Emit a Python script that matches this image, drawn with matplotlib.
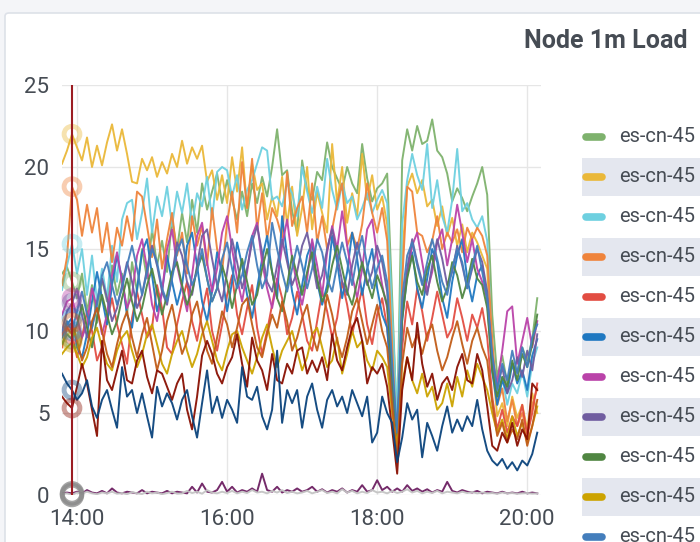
import matplotlib

matplotlib.use("Agg")

import matplotlib.dates as mdates  # noqa: E402
import matplotlib.pyplot as plt  # noqa: E402
import pandas as pd  # noqa: E402
from matplotlib.lines import Line2D  # noqa: E402
from matplotlib.patches import FancyBboxPatch, Rectangle  # noqa: E402

# ---- data: node 1m load, one sample every 4 minutes from 13:48 ----
TIMES = pd.date_range("2024-05-20 13:48", periods=96, freq="4min")
X_END = pd.Timestamp("2024-05-20 20:11")
CURSOR = 2  # hovered sample (13:56)

# node names are cut at the panel edge, only the prefix is visible
NODE_NAMES = ["es-cn-45"] * 11

grn = [13.5, 13.9, 13.0, 12.0, 13.5, 11.2, 12.8, 10.5, 13.2, 11.8, 14.0, 12.2,
       13.5, 11.0, 14.2, 12.4, 15.0, 13.2, 16.2, 14.0, 15.5, 13.6, 16.8, 15.0,
       17.2, 15.4, 18.0, 16.0, 19.0, 17.4, 18.5, 19.6, 17.8, 19.2, 18.0, 16.8,
       18.5, 17.0, 19.0, 17.8, 19.4, 18.2, 20.0, 22.3, 19.5, 19.8, 17.3, 16.0,
       20.4, 18.6, 18.0, 19.7, 19.2, 21.5, 20.0, 19.3, 18.6, 20.0, 19.0, 18.4,
       21.4, 19.3, 17.9, 18.7, 19.0, 19.6, 12.0, 4.0, 20.4, 22.3, 21.0, 22.5,
       21.4, 21.6, 22.9, 21.0, 20.6, 19.6, 17.9, 18.7, 18.1, 17.3, 18.2, 19.0,
       20.0, 18.3, 11.0, 7.2, 8.5, 6.8, 8.0, 7.5, 9.0, 8.2, 9.5, 12.0]
ylw = [20.2, 21.0, 22.0, 21.2, 20.4, 21.8, 20.0, 21.3, 20.1, 21.5, 22.6, 21.0,
       22.3, 20.8, 19.1, 19.0, 20.5, 19.8, 20.6, 19.4, 20.3, 19.6, 20.8, 20.0,
       21.6, 20.2, 21.2, 20.5, 21.3, 19.1, 19.8, 18.0, 19.5, 17.8, 20.6, 18.5,
       21.2, 17.5, 20.2, 18.6, 19.0, 16.8, 18.2, 17.0, 19.4, 16.5, 18.8, 15.8,
       17.5, 20.0, 16.2, 18.5, 17.2, 16.0, 21.4, 17.8, 20.0, 16.6, 18.4, 17.0,
       20.8, 18.0, 19.5, 17.4, 18.2, 16.5, 10.5, 3.0, 14.5, 18.8, 19.6, 18.4,
       19.2, 17.6, 18.0, 16.4, 17.6, 15.8, 16.9, 15.2, 16.5, 14.8, 16.0, 15.4,
       14.6, 13.8, 8.0, 4.8, 5.6, 4.2, 6.0, 4.7, 5.5, 4.0, 6.2, 5.0]
cyn = [12.5, 14.0, 15.3, 13.5, 15.0, 12.2, 14.6, 11.8, 13.8, 12.0, 15.2, 13.0,
       16.8, 17.8, 18.0, 15.6, 17.2, 19.3, 16.0, 18.2, 17.0, 18.8, 16.4, 18.5,
       17.2, 19.0, 16.5, 18.4, 17.6, 19.4, 16.8, 19.7, 20.0, 19.8, 18.2, 19.5,
       17.4, 18.6, 19.2, 20.2, 21.2, 21.0, 18.0, 18.2, 17.6, 19.0, 18.4, 17.0,
       20.0, 18.5, 17.2, 18.8, 17.5, 20.5, 18.6, 17.4, 19.0, 17.8, 18.2, 16.8,
       17.5, 18.4, 17.2, 18.0, 18.6, 17.8, 11.0, 4.5, 16.5, 19.2, 20.8, 19.5,
       18.6, 21.4, 17.5, 19.2, 17.0, 16.0, 18.0, 21.1, 17.3, 17.8, 16.8, 16.3,
       17.0, 15.5, 9.0, 6.0, 7.2, 5.5, 6.8, 6.2, 7.5, 6.0, 8.0, 9.0]
org = [12.8, 14.5, 18.8, 18.0, 15.8, 17.7, 16.0, 17.5, 14.8, 16.6, 14.2, 16.3,
       15.2, 17.0, 15.5, 18.5, 18.2, 16.4, 14.5, 16.8, 13.8, 15.6, 17.2, 14.6,
       16.0, 13.5, 17.0, 15.2, 16.4, 14.0, 17.5, 15.0, 13.6, 16.6, 18.5, 16.0,
       20.3, 17.5, 20.5, 16.2, 18.4, 15.6, 17.5, 16.8, 15.7, 19.7, 16.4, 17.5,
       18.2, 16.0, 19.0, 15.4, 17.0, 15.0, 16.2, 17.8, 19.0, 15.2, 16.0, 15.0,
       16.5, 19.0, 17.2, 16.0, 17.5, 15.5, 9.0, 2.5, 13.0, 18.8, 18.5, 16.0,
       15.8, 14.8, 15.5, 17.0, 15.0, 16.0, 15.4, 16.2, 14.8, 16.3, 15.6, 16.3,
       15.8, 14.6, 9.5, 5.5, 6.5, 4.5, 5.8, 4.2, 5.0, 3.8, 5.5, 6.5]
red = [9.0, 10.2, 9.8, 8.4, 9.6, 11.2, 10.0, 8.2, 9.0, 10.6, 12.0, 10.4,
       9.2, 8.0, 10.8, 12.4, 11.0, 9.6, 10.2, 12.8, 11.4, 9.0, 8.6, 10.4,
       11.8, 13.0, 10.6, 9.4, 11.2, 12.6, 10.0, 8.8, 10.4, 12.2, 13.4, 11.0,
       9.8, 11.4, 12.8, 10.2, 8.6, 10.0, 11.6, 13.2, 12.0, 9.8, 10.8, 12.4,
       11.0, 9.4, 8.8, 10.6, 12.4, 11.2, 9.6, 10.8, 13.0, 11.6, 9.8, 11.2,
       12.6, 10.4, 9.2, 11.0, 12.0, 10.2, 6.5, 2.4, 9.0, 11.8, 10.4, 12.6,
       11.2, 9.4, 10.8, 12.4, 11.0, 9.6, 10.2, 12.0, 10.8, 9.4, 11.0, 10.2,
       11.4, 9.6, 6.0, 4.0, 5.2, 3.8, 4.8, 4.2, 5.5, 3.6, 5.0, 6.8]
blu = [9.6, 10.4, 10.8, 9.0, 8.4, 9.8, 11.8, 13.6, 12.0, 10.4, 12.8, 14.6,
       13.2, 11.0, 10.2, 12.6, 14.8, 15.6, 13.4, 11.2, 12.4, 14.6, 13.0, 11.6,
       12.8, 15.2, 16.0, 14.0, 11.8, 10.6, 12.4, 14.8, 13.6, 11.2, 13.0, 15.4,
       14.0, 12.2, 10.8, 12.6, 14.4, 15.8, 13.6, 12.0, 17.0, 14.6, 12.4, 11.0,
       12.8, 14.6, 15.4, 13.0, 11.6, 12.8, 15.8, 14.2, 12.0, 13.6, 16.0, 14.4,
       12.2, 13.8, 15.0, 12.6, 11.0, 10.2, 6.0, 2.8, 10.6, 13.4, 14.8, 12.6,
       11.4, 13.2, 15.0, 14.2, 12.0, 10.8, 13.0, 14.6, 15.6, 13.2, 11.8, 13.4,
       14.0, 11.8, 7.5, 5.5, 7.0, 6.2, 8.0, 6.8, 7.6, 6.4, 8.5, 9.5]
mag = [11.0, 11.8, 12.0, 10.8, 9.6, 10.4, 12.6, 11.4, 9.8, 11.0, 13.4, 14.8,
       13.0, 11.4, 12.2, 14.6, 15.6, 13.8, 11.6, 10.6, 12.4, 15.0, 16.2, 14.0,
       12.6, 11.2, 13.4, 15.8, 16.6, 14.2, 12.4, 13.8, 16.0, 17.0, 15.0, 13.2,
       11.8, 13.6, 15.8, 16.6, 14.2, 12.6, 11.4, 13.0, 15.2, 16.8, 14.4, 12.8,
       11.6, 13.2, 15.6, 14.0, 12.2, 14.8, 16.4, 15.0, 17.3, 15.2, 13.4, 12.0,
       13.8, 16.2, 16.8, 14.6, 12.8, 11.4, 7.5, 3.5, 11.2, 13.6, 15.2, 16.0,
       14.2, 12.4, 13.6, 15.4, 16.2, 14.0, 15.6, 17.7, 16.0, 14.2, 15.6, 13.8,
       13.0, 12.0, 8.2, 6.8, 8.8, 11.2, 11.5, 8.0, 9.4, 10.8, 9.0, 10.6]
pur = [10.0, 11.2, 11.7, 12.6, 11.0, 9.6, 10.2, 11.8, 13.2, 12.0, 10.6, 11.4,
       12.8, 14.2, 13.0, 11.4, 12.2, 13.8, 15.2, 14.0, 12.4, 11.6, 13.4, 15.4,
       14.6, 13.0, 12.2, 14.0, 15.8, 16.2, 14.4, 12.8, 11.8, 13.6, 15.6, 14.2,
       12.6, 13.8, 15.4, 16.4, 14.8, 13.0, 12.4, 14.0, 15.6, 14.2, 12.8, 13.6,
       15.2, 16.0, 14.4, 12.6, 13.4, 15.0, 16.2, 14.6, 13.0, 12.2, 14.0, 15.4,
       14.0, 12.8, 13.6, 15.2, 14.2, 12.4, 7.0, 3.0, 11.0, 13.8, 15.6, 14.2,
       13.0, 12.2, 14.0, 15.6, 14.4, 12.8, 13.6, 15.2, 14.0, 12.6, 13.8, 15.0,
       14.2, 12.4, 8.0, 6.5, 7.8, 6.2, 7.0, 8.4, 7.2, 8.8, 7.6, 9.8]
dgr = [9.2, 9.8, 9.5, 10.4, 11.6, 10.2, 9.0, 10.8, 12.2, 11.0, 9.8, 10.6,
       12.0, 13.2, 11.8, 10.6, 11.4, 12.8, 13.8, 12.4, 11.0, 12.2, 13.6, 14.2,
       12.8, 11.6, 12.4, 13.8, 14.6, 13.2, 11.8, 12.6, 14.0, 13.0, 11.4, 12.8,
       14.4, 13.0, 11.6, 12.2, 13.8, 15.0, 13.6, 12.0, 11.2, 12.8, 14.6, 13.4,
       12.2, 13.6, 14.8, 13.2, 11.8, 12.4, 14.0, 15.2, 13.8, 12.4, 11.6, 13.0,
       14.2, 13.0, 12.0, 13.4, 12.6, 11.6, 7.2, 3.4, 10.8, 13.2, 14.6, 13.0,
       12.2, 13.8, 14.6, 13.0, 11.8, 12.6, 14.2, 13.4, 12.0, 13.0, 14.4, 13.2,
       12.8, 11.4, 7.6, 6.0, 7.2, 6.6, 8.2, 7.0, 8.6, 7.8, 9.2, 11.0]
dyl = [8.6, 9.0, 9.3, 8.6, 7.8, 8.4, 9.6, 10.2, 9.0, 8.0, 7.6, 8.8,
       9.6, 10.0, 8.8, 7.8, 8.6, 9.8, 10.4, 9.2, 8.0, 7.4, 8.6, 9.4,
       10.0, 8.8, 7.8, 8.6, 9.8, 10.6, 9.4, 8.2, 7.6, 8.8, 9.8, 10.0,
       9.0, 8.2, 7.4, 8.4, 9.6, 10.4, 9.0, 7.8, 8.8, 9.4, 10.0, 8.8,
       7.6, 8.4, 9.8, 10.2, 9.0, 7.8, 8.2, 9.6, 7.4, 8.6, 10.0, 9.0,
       9.4, 8.2, 7.6, 8.8, 8.4, 7.8, 5.0, 3.0, 6.8, 8.4, 7.0, 6.2,
       7.4, 6.0, 6.6, 5.2, 5.6, 6.8, 5.4, 7.2, 6.0, 7.6, 6.6, 8.0,
       7.2, 6.4, 5.0, 3.8, 4.6, 3.4, 4.8, 3.6, 4.4, 3.2, 4.2, 5.4]
bl2 = [9.8, 10.6, 10.0, 11.2, 12.4, 11.0, 10.2, 11.6, 13.4, 14.2, 12.8, 11.6,
       12.6, 14.0, 15.2, 13.8, 12.2, 13.6, 15.0, 14.2, 12.6, 11.8, 13.2, 14.8,
       15.6, 14.0, 12.8, 13.6, 15.0, 13.2, 11.8, 12.6, 14.4, 15.4, 13.8, 12.6,
       13.4, 14.8, 15.8, 14.0, 12.6, 13.4, 16.6, 15.0, 13.6, 12.4, 13.8, 15.2,
       14.0, 12.6, 13.8, 15.6, 14.8, 13.2, 12.4, 14.0, 15.4, 14.2, 12.8, 14.6,
       15.8, 14.0, 12.6, 13.8, 14.6, 13.0, 8.0, 3.8, 12.0, 14.6, 15.4, 14.0,
       12.8, 14.2, 15.6, 14.4, 13.0, 12.2, 13.8, 15.0, 14.2, 12.6, 14.0, 15.2,
       13.6, 12.0, 8.6, 6.4, 8.0, 7.0, 8.8, 7.4, 9.0, 7.8, 9.6, 10.4]
dor = [9.8, 10.2, 10.5, 9.4, 8.2, 9.0, 10.6, 11.4, 10.0, 8.6, 7.8, 9.2,
       10.4, 11.2, 9.6, 8.4, 9.8, 10.8, 9.2, 7.6, 8.8, 10.6, 11.6, 10.0,
       8.6, 9.4, 11.0, 11.8, 10.2, 8.8, 8.0, 9.6, 11.2, 10.4, 9.0, 10.2,
       11.6, 12.0, 10.4, 9.0, 8.4, 9.8, 11.0, 10.2, 11.8, 10.6, 8.8, 9.6,
       10.8, 11.6, 9.8, 8.8, 10.2, 12.2, 11.0, 9.4, 8.4, 9.6, 11.2, 12.0,
       10.6, 9.2, 10.4, 11.6, 10.0, 9.0, 5.5, 2.2, 8.0, 10.2, 9.0, 9.8,
       8.6, 9.8, 10.4, 8.8, 7.6, 8.4, 9.6, 10.6, 9.2, 8.0, 9.4, 10.2,
       9.0, 8.2, 5.6, 3.6, 4.4, 3.2, 4.0, 3.4, 4.6, 3.0, 4.2, 5.8]
drd = [6.0, 5.6, 5.3, 6.6, 8.0, 6.8, 5.2, 3.6, 9.4, 7.0, 6.4, 7.6,
       8.8, 7.0, 6.8, 8.2, 8.8, 7.2, 6.2, 7.6, 7.4, 6.6, 5.8, 6.8,
       7.4, 5.2, 4.0, 6.0, 8.5, 9.4, 8.6, 7.4, 6.8, 7.8, 8.4, 9.8,
       8.0, 6.6, 9.6, 8.2, 7.6, 6.4, 8.6, 7.0, 6.8, 8.0, 7.4, 8.8,
       9.0, 7.4, 8.2, 7.5, 8.4, 7.0, 9.8, 8.2, 7.6, 9.0, 10.2, 10.8,
       9.4, 6.8, 7.8, 7.4, 8.0, 6.6, 4.0, 1.3, 6.4, 8.4, 7.0, 10.5,
       8.0, 6.6, 7.4, 5.8, 6.8, 7.2, 6.4, 7.8, 8.6, 7.0, 6.8, 8.6,
       7.6, 5.4, 3.0, 2.7, 3.8, 3.2, 4.4, 3.0, 4.0, 3.4, 6.8, 6.4]
dbl = [7.4, 6.8, 6.4, 5.8, 6.2, 7.0, 5.4, 4.7, 5.8, 6.4, 5.2, 4.1,
       7.8, 6.0, 6.4, 5.0, 6.2, 4.8, 3.5, 6.6, 5.4, 6.2, 5.6, 4.6,
       5.8, 6.4, 4.8, 3.5, 5.6, 7.6, 5.0, 6.0, 4.7, 5.8, 5.2, 4.4,
       7.8, 6.0, 5.8, 6.6, 4.8, 4.0, 5.2, 8.8, 4.4, 6.4, 5.6, 6.4,
       4.1, 6.0, 6.8, 5.2, 4.1, 5.8, 6.4, 5.4, 6.0, 5.0, 6.4, 5.6,
       4.8, 6.0, 3.2, 3.8, 6.0, 5.0, 4.4, 2.0, 3.5, 5.6, 4.6, 5.2,
       2.3, 4.4, 3.6, 2.7, 4.2, 5.4, 3.8, 4.6, 3.9, 4.8, 4.2, 5.8,
       4.0, 2.7, 2.1, 1.8, 2.2, 1.6, 2.0, 1.5, 2.1, 1.8, 2.5, 3.8]
nz1 = [0.1, 0.15, 0.1, 0.2, 0.1, 0.3, 0.15, 0.1, 0.25, 0.1, 0.4, 0.15,
       0.1, 0.2, 0.15, 0.1, 0.3, 0.1, 0.2, 0.15, 0.1, 0.25, 0.1, 0.2,
       0.15, 0.1, 0.5, 0.15, 0.7, 0.2, 0.15, 0.3, 0.8, 0.2, 0.5, 0.15,
       0.3, 0.2, 0.4, 0.2, 1.3, 0.3, 0.2, 0.5, 0.15, 0.3, 0.2, 0.4,
       0.2, 0.3, 0.5, 0.2, 0.35, 0.15, 0.3, 0.2, 0.4, 0.15, 0.3, 0.2,
       0.6, 0.2, 0.3, 0.9, 0.3, 0.5, 0.2, 0.4, 0.2, 0.6, 0.25, 0.4,
       0.2, 0.35, 0.15, 0.3, 0.2, 0.8, 0.25, 0.15, 0.3, 0.2, 0.15, 0.25,
       0.1, 0.2, 0.15, 0.1, 0.2, 0.1, 0.15, 0.1, 0.2, 0.1, 0.15, 0.1]
nz2 = [0.05, 0.1, 0.0, 0.15, 0.08, 0.2, 0.1, 0.05, 0.15, 0.1, 0.2, 0.08,
       0.12, 0.05, 0.18, 0.1, 0.06, 0.2, 0.1, 0.15, 0.05, 0.12, 0.2, 0.08,
       0.1, 0.25, 0.12, 0.2, 0.08, 0.3, 0.15, 0.1, 0.2, 0.12, 0.25, 0.1,
       0.2, 0.12, 0.3, 0.15, 0.2, 0.1, 0.25, 0.15, 0.3, 0.12, 0.2, 0.1,
       0.15, 0.25, 0.1, 0.2, 0.3, 0.12, 0.2, 0.1, 0.35, 0.15, 0.25, 0.1,
       0.2, 0.12, 0.3, 0.15, 0.2, 0.1, 0.25, 0.12, 0.2, 0.35, 0.15, 0.25,
       0.1, 0.2, 0.12, 0.25, 0.1, 0.2, 0.15, 0.1, 0.2, 0.12, 0.18, 0.1,
       0.15, 0.1, 0.12, 0.08, 0.15, 0.1, 0.12, 0.08, 0.1, 0.12, 0.08, 0.1]

SERIES = [grn, ylw, cyn, org, red, blu, mag, pur, dgr, dyl, bl2,
          dor, drd, dbl, nz1, nz2]
COLORS = ["#7EB26D", "#EAB839", "#6ED0E0", "#EF843C", "#E24D42", "#1F78C1",
          "#BA43A9", "#705DA0", "#508642", "#CCA300", "#447EBC",
          "#C15C17", "#890F02", "#0A437C", "#6D1F62", "#C4C4C4"]

# ---- Grafana light theme ----
PAGE_BG = "#F4F5F8"
CARD_BG = "#FFFFFF"
CARD_EDGE = "#DDE1E8"
TEXT = "#464C54"
GRID = "#E6E6E6"
ROW_BG = "#E4E7EF"
CURSOR_C = "#9B1C22"

W, H = 700, 542
plt.rcParams["font.family"] = ["Roboto", "DejaVu Sans"]

fig = plt.figure(figsize=(W / 100, H / 100), dpi=100)
fig.patch.set_facecolor(PAGE_BG)


def fx(px):
    return px / W


def fy(py):
    return 1 - py / H


card = FancyBboxPatch((fx(5), fy(560)), fx(720), fy(13) - fy(560),
                      boxstyle="round,pad=0,rounding_size=0.006",
                      transform=fig.transFigure, facecolor=CARD_BG,
                      edgecolor=CARD_EDGE, linewidth=1.2, zorder=0)
fig.add_artist(card)

fig.text(fx(688), fy(41), "Node 1m Load", ha="right", va="center",
         fontsize=18, fontweight="bold", color=TEXT)

ax = fig.add_axes([fx(62), fy(495), fx(541) - fx(62), fy(85) - fy(495)])
ax.set_facecolor("none")

for y, c in zip(SERIES, COLORS):
    ax.plot(TIMES, y, color=c, linewidth=1.4, alpha=0.95, solid_joinstyle="round")

# hover markers at the cursor sample
for y, c in zip(SERIES, COLORS):
    big = y[CURSOR] < 0.5
    ax.scatter([TIMES[CURSOR]], [y[CURSOR]], s=200 if big else 130,
               facecolors="none", edgecolors="#888888" if big else c,
               linewidths=3.5, alpha=0.75 if big else 0.4, zorder=5, clip_on=False)
ax.axvline(TIMES[CURSOR], color=CURSOR_C, linewidth=1.5, zorder=6)

ax.set_xlim(TIMES[0], X_END)
ax.set_ylim(0, 25)
ax.set_yticks([0, 5, 10, 15, 20, 25])
ax.xaxis.set_major_locator(mdates.HourLocator(byhour=[14, 16, 18, 20]))
ax.xaxis.set_major_formatter(mdates.DateFormatter("%H:%M"))
ax.grid(True, color=GRID, linewidth=1.0)
ax.set_axisbelow(True)
for spine in ax.spines.values():
    spine.set_visible(False)
ax.tick_params(length=0, colors=TEXT, labelsize=16)
ax.tick_params(axis="y", pad=9)
ax.tick_params(axis="x", pad=10)

# ---- legend on the right, alternate rows shaded ----
for k, name in enumerate(NODE_NAMES):
    yc = 137 + 40 * k
    if k % 2 == 1:
        fig.add_artist(Rectangle((fx(582), fy(yc + 19)), fx(130), fy(yc - 19) - fy(yc + 19),
                                 transform=fig.transFigure, facecolor=ROW_BG,
                                 edgecolor="none", zorder=1))
    fig.add_artist(Line2D([fx(586), fx(602)], [fy(yc), fy(yc)], transform=fig.transFigure,
                          color=COLORS[k], linewidth=5.5, solid_capstyle="round", zorder=2))
    fig.text(fx(619), fy(yc), name, ha="left", va="center",
             fontsize=14.5, color=TEXT, zorder=3)

fig.savefig("out.png", dpi=100, facecolor=PAGE_BG)
